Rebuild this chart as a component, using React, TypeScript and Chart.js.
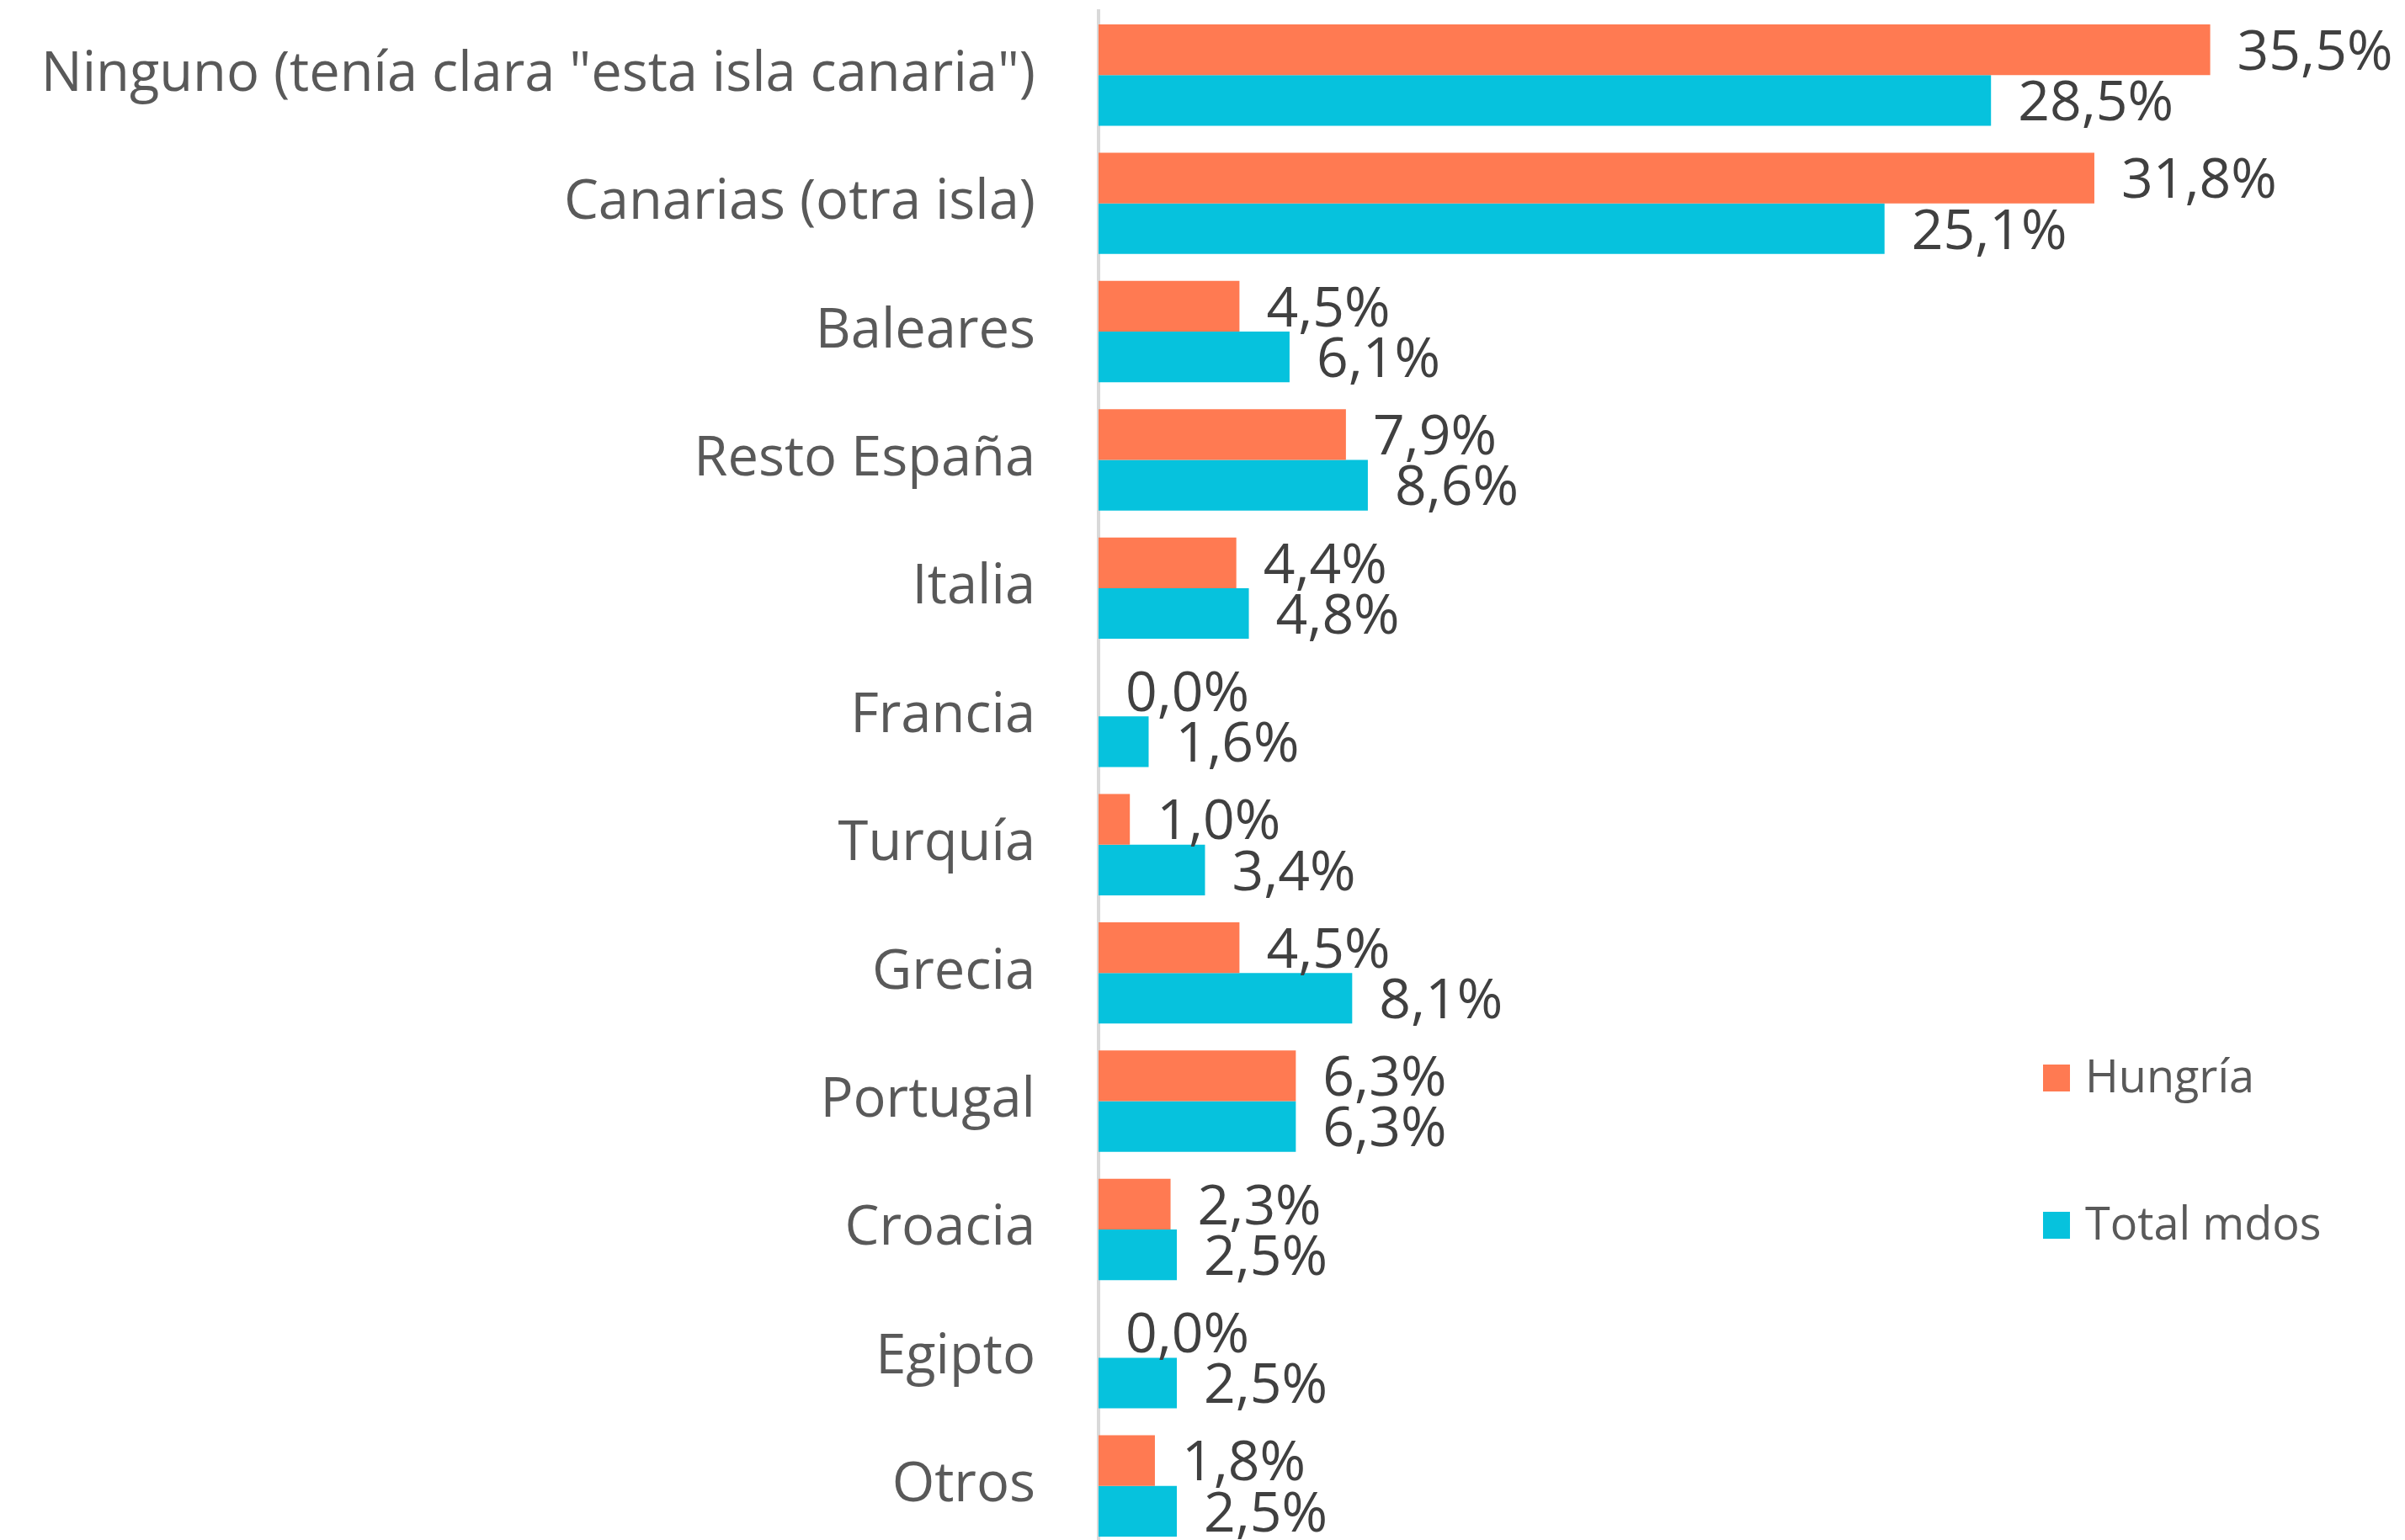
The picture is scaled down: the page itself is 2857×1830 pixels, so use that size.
import React, { useEffect, useRef } from "react";
import { Chart, registerables } from "chart.js";

Chart.register(...registerables);

const categories = [
  'Ninguno (tenía clara "esta isla canaria")',
  "Canarias (otra isla)",
  "Baleares",
  "Resto España",
  "Italia",
  "Francia",
  "Turquía",
  "Grecia",
  "Portugal",
  "Croacia",
  "Egipto",
  "Otros",
];

const hungria = [35.5, 31.8, 4.5, 7.9, 4.4, 0.0, 1.0, 4.5, 6.3, 2.3, 0.0, 1.8];
const totalMdos = [28.5, 25.1, 6.1, 8.6, 4.8, 1.6, 3.4, 8.1, 6.3, 2.5, 2.5, 2.5];

const seriesNames = ["Hungría", "Total mdos"];
const seriesColors = ["#FF7A52", "#06C2DD"];

const FONT = "'Open Sans', Lato, sans-serif";

const fmt = (v: number) => v.toFixed(1).replace(".", ",") + "%";

const valueLabelsPlugin = {
  id: "valueLabels",
  afterDatasetsDraw(chart: any) {
    const ctx = chart.ctx;
    ctx.save();
    ctx.font = `66px ${FONT}`;
    ctx.fillStyle = "#404040";
    ctx.textAlign = "left";
    ctx.textBaseline = "middle";
    chart.data.datasets.forEach((ds: any, di: number) => {
      const meta = chart.getDatasetMeta(di);
      meta.data.forEach((bar: any, i: number) => {
        const v = ds.data[i] as number;
        ctx.fillText(fmt(v), bar.x + 32, bar.y + 5);
      });
    });
    ctx.restore();
  },
};

const legendPlugin = {
  id: "customLegend",
  afterDraw(chart: any) {
    const ctx = chart.ctx;
    ctx.save();
    const x = 2427;
    const ys = [1281, 1456];
    ctx.font = `54px ${FONT}`;
    ctx.textAlign = "left";
    ctx.textBaseline = "middle";
    chart.data.datasets.forEach((ds: any, di: number) => {
      const y = ys[di];
      ctx.fillStyle = ds.backgroundColor;
      ctx.fillRect(x, y - 16, 32, 32);
      ctx.fillStyle = "#595959";
      ctx.fillText(ds.label, x + 50, y + 2);
    });
    ctx.restore();
  },
};

export default function App() {
  const canvasRef = useRef<HTMLCanvasElement | null>(null);

  useEffect(() => {
    if (!canvasRef.current) return;
    const chart = new Chart(canvasRef.current, {
      type: "bar",
      data: {
        labels: categories,
        datasets: [
          {
            label: seriesNames[0],
            data: hungria,
            backgroundColor: seriesColors[0],
            categoryPercentage: 0.79,
            barPercentage: 1,
          },
          {
            label: seriesNames[1],
            data: totalMdos,
            backgroundColor: seriesColors[1],
            categoryPercentage: 0.79,
            barPercentage: 1,
          },
        ],
      },
      options: {
        indexAxis: "y",
        responsive: false,
        animation: false,
        devicePixelRatio: 1,
        layout: { padding: { top: 13, bottom: 3, right: 64, left: 0 } },
        plugins: {
          legend: { display: false },
          tooltip: { enabled: false },
        },
        scales: {
          x: {
            display: false,
            min: 0,
            max: 40,
          },
          y: {
            offset: true,
            grid: { display: false, drawTicks: false },
            border: { display: true, color: "#d9d9d9", width: 4 },
            ticks: {
              autoSkip: false,
              padding: 75,
              color: "#595959",
              font: { family: FONT, size: 65 },
            },
            afterFit: (s: any) => {
              s.width = 1305;
              s.paddingTop = 0;
              s.paddingBottom = 0;
            },
          },
        },
      },
      plugins: [valueLabelsPlugin, legendPlugin],
    });
    return () => chart.destroy();
  }, []);

  return (
    <div
      style={{
        position: "fixed",
        left: 0,
        top: 0,
        width: 2857,
        height: 1830,
        overflow: "hidden",
        background: "#ffffff",
      }}
    >
      <canvas ref={canvasRef} width={2857} height={1845} style={{ display: "block" }} />
    </div>
  );
}
